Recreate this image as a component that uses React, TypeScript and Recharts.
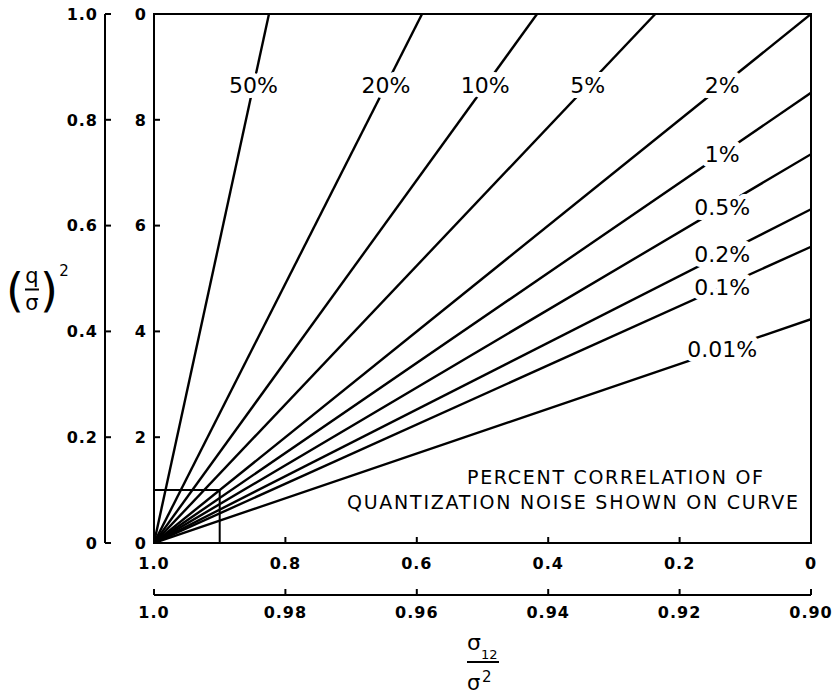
import { LineChart, Line, XAxis, YAxis, ReferenceArea, ReferenceDot, Label } from "recharts";

// curves start at (1.0, 0) and run to these end points
const curveLabels = ["50%", "20%", "10%", "5%", "2%", "1%", "0.5%", "0.2%", "0.1%", "0.01%"];
const curveEndX = [0.825, 0.592, 0.417, 0.237, 0, 0, 0, 0, 0, 0];
const curveEndY = [1, 1, 1, 1, 1, 0.851, 0.735, 0.631, 0.56, 0.423];

const xTicksMain = [1, 0.8, 0.6, 0.4, 0.2, 0];
const xTickLabelsMain = ["1.0", "0.8", "0.6", "0.4", "0.2", "0"];
const xTicksInset = [1, 0.98, 0.96, 0.94, 0.92, 0.9];
const xTickLabelsInset = ["1.0", "0.98", "0.96", "0.94", "0.92", "0.90"];
const yTicksMain = [0, 0.2, 0.4, 0.6, 0.8, 1];
const yTickLabelsMain = ["0", "0.2", "0.4", "0.6", "0.8", "1.0"];
const yTicksInset = [0, 2, 4, 6, 8, 10];
const yTickLabelsInset = ["0", "2", "4", "6", "8", "0"];

const noteLines = ["PERCENT CORRELATION OF", "QUANTIZATION NOISE SHOWN ON CURVE"];

const FONT = "'DejaVu Sans', sans-serif";
const LABEL_T = 0.865; // where along each curve its label sits

const curves = curveLabels.map((name, i) => ({
  name,
  data: [
    { x: 1, y: 0 },
    { x: curveEndX[i], y: curveEndY[i] },
  ],
  labelX: 1 - LABEL_T * (1 - curveEndX[i]),
  labelY: LABEL_T * curveEndY[i],
}));

const xTick = (labels: string[], dy: number) => (props: any) => {
  const { x, y, index } = props;
  return (
    <g>
      <line x1={x} x2={x} y1={y} y2={y - 6} stroke="#000" strokeWidth={2} />
      <text
        x={x}
        y={y + dy}
        textAnchor="middle"
        fontFamily={FONT}
        fontWeight={700}
        fontSize={16}
        letterSpacing={1}
        fill="#000"
      >
        {labels[index]}
      </text>
    </g>
  );
};

const yTick = (labels: string[]) => (props: any) => {
  const { x, y, index } = props;
  return (
    <g>
      <line x1={x} x2={x + 6} y1={y} y2={y} stroke="#000" strokeWidth={2} />
      <text
        x={x - 7}
        y={y}
        dy="0.36em"
        textAnchor="end"
        fontFamily={FONT}
        fontWeight={700}
        fontSize={16}
        letterSpacing={1}
        fill="#000"
      >
        {labels[index]}
      </text>
    </g>
  );
};

const YTitle = (props: any) => {
  const { viewBox } = props;
  const cx = viewBox.x - 14;
  const cy = viewBox.y + viewBox.height / 2 + 11;
  return (
    <g fontFamily={FONT} fill="#000">
      <text x={cx - 16} y={cy} dy="0.36em" fontSize={46} textAnchor="middle">
        (
      </text>
      <text x={cx + 18} y={cy} dy="0.36em" fontSize={46} textAnchor="middle">
        )
      </text>
      <text x={cx + 1} y={cy - 7} fontSize={21} textAnchor="middle">
        q
      </text>
      <line x1={cx - 6} x2={cx + 8} y1={cy} y2={cy} stroke="#000" strokeWidth={2} />
      <text x={cx + 1} y={cy + 20} fontSize={21} textAnchor="middle">
        σ
      </text>
      <text x={cx + 33} y={cy - 14} fontSize={15} textAnchor="middle">
        2
      </text>
    </g>
  );
};

const XTitle = (props: any) => {
  const { viewBox } = props;
  const x0 = 467;
  const y0 = viewBox.y + 67;
  return (
    <g fontFamily={FONT} fill="#000">
      <text x={x0} y={y0 - 12} fontSize={22}>
        σ
      </text>
      <text x={x0 + 14} y={y0 - 3} fontSize={13}>
        12
      </text>
      <line x1={x0} x2={x0 + 32} y1={y0} y2={y0} stroke="#000" strokeWidth={2} />
      <text x={x0} y={y0 + 28} fontSize={21}>
        σ
      </text>
      <text x={x0 + 15} y={y0 + 20} fontSize={15}>
        2
      </text>
    </g>
  );
};

const Note = (props: any) => {
  const { viewBox } = props;
  const left = viewBox.x;
  const bottom = viewBox.y + viewBox.height;
  return (
    <g fontFamily={FONT} fontSize={19} fill="#000">
      <text x={left + 313} y={bottom - 59} textLength={296} lengthAdjust="spacing">
        {noteLines[0]}
      </text>
      <text x={left + 193} y={bottom - 34} textLength={451} lengthAdjust="spacing">
        {noteLines[1]}
      </text>
    </g>
  );
};

export default function App() {
  return (
    <div style={{ position: "fixed", left: 0, top: 0, background: "#fff" }}>
      <LineChart width={832} height={696} margin={{ top: 14, right: 21, bottom: 61, left: 45 }}>
        <XAxis
          xAxisId="a"
          dataKey="x"
          type="number"
          domain={[0, 1]}
          allowDataOverflow
          reversed
          ticks={xTicksMain}
          height={52}
          tickSize={0}
          tickMargin={0}
          tickLine={false}
          axisLine={{ stroke: "#000", strokeWidth: 2 }}
          tick={xTick(xTickLabelsMain, 26)}
          interval={0}
        />
        <XAxis
          xAxisId="b"
          dataKey="x"
          type="number"
          domain={[0.9, 1]}
          allowDataOverflow
          reversed
          ticks={xTicksInset}
          height={40}
          tickSize={0}
          tickMargin={0}
          tickLine={false}
          axisLine={{ stroke: "#000", strokeWidth: 2 }}
          tick={xTick(xTickLabelsInset, 23)}
          interval={0}
        >
          <Label content={XTitle} />
        </XAxis>
        <YAxis
          yAxisId="a"
          dataKey="y"
          type="number"
          domain={[0, 10]}
          allowDataOverflow
          ticks={yTicksInset}
          width={49}
          tickSize={0}
          tickMargin={0}
          tickLine={false}
          axisLine={{ stroke: "#000", strokeWidth: 2 }}
          tick={yTick(yTickLabelsInset)}
          interval={0}
        />
        <YAxis
          yAxisId="b"
          dataKey="y"
          type="number"
          domain={[0, 1]}
          allowDataOverflow
          ticks={yTicksMain}
          width={60}
          tickSize={0}
          tickMargin={0}
          tickLine={false}
          axisLine={{ stroke: "#000", strokeWidth: 2 }}
          tick={yTick(yTickLabelsMain)}
          interval={0}
        >
          <Label content={YTitle} />
        </YAxis>
        <ReferenceArea
          xAxisId="a"
          yAxisId="b"
          x1={1}
          x2={0}
          y1={0}
          y2={1}
          fill="none"
          fillOpacity={0}
          stroke="#000"
          strokeWidth={2}
        >
          <Label content={Note} />
        </ReferenceArea>
        <ReferenceArea
          xAxisId="a"
          yAxisId="b"
          x1={1}
          x2={0.9}
          y1={0}
          y2={0.1}
          fill="none"
          fillOpacity={0}
          stroke="#000"
          strokeWidth={2}
        />
        {curves.map((c) => (
          <Line
            key={c.name}
            data={c.data}
            dataKey="y"
            xAxisId="a"
            yAxisId="b"
            type="linear"
            stroke="#000"
            strokeWidth={2.4}
            dot={false}
            activeDot={false}
            isAnimationActive={false}
          />
        ))}
        {curves.map((c) => (
          <ReferenceDot
            key={"lbl" + c.name}
            xAxisId="a"
            yAxisId="b"
            x={c.labelX}
            y={c.labelY}
            r={0}
            shape={(p: any) => (
              <text
                x={p.cx}
                y={p.cy}
                dy="0.36em"
                textAnchor="middle"
                fontFamily={FONT}
                fontSize={22}
                fill="#000"
                stroke="#fff"
                strokeWidth={10}
                strokeLinejoin="round"
                paintOrder="stroke"
              >
                {c.name}
              </text>
            )}
          />
        ))}
      </LineChart>
    </div>
  );
}
